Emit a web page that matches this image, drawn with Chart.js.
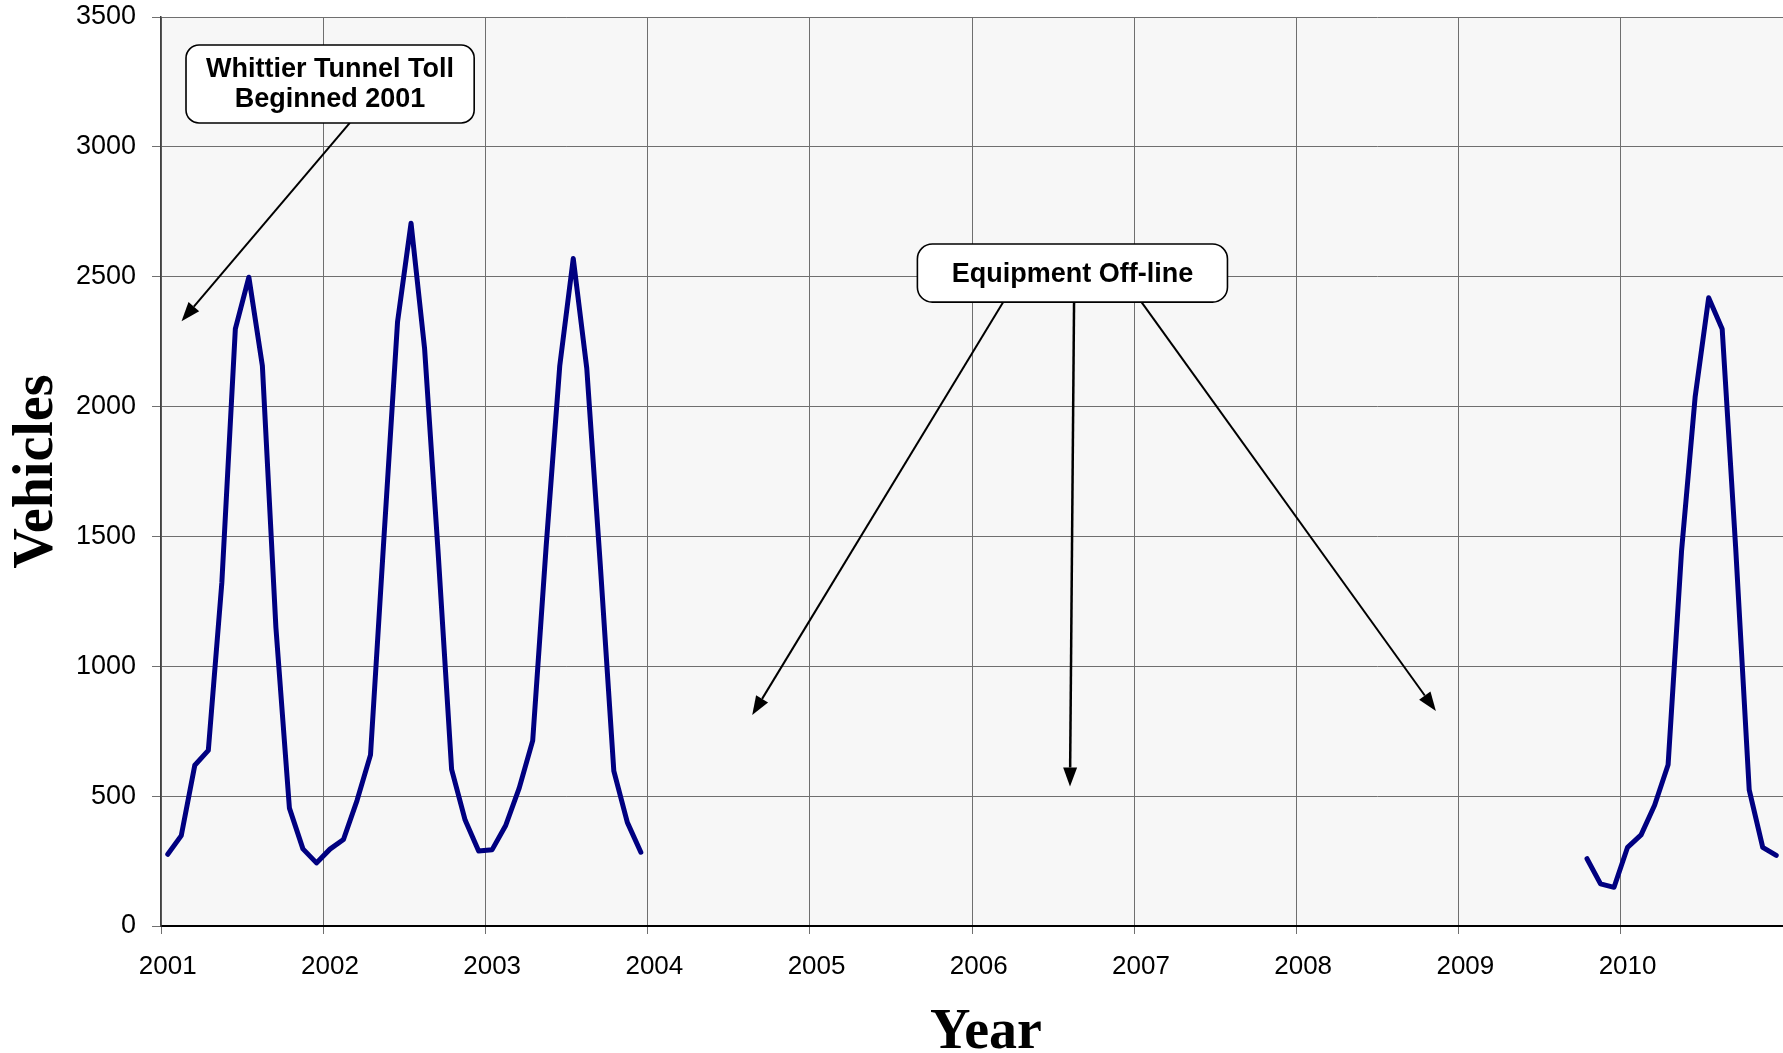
<!DOCTYPE html>
<html>
<head>
<meta charset="utf-8">
<title>Whittier Tunnel Vehicles</title>
<script src="https://cdn.jsdelivr.net/npm/chart.js@4/dist/chart.umd.min.js"></script>
<style>
  html, body { margin: 0; padding: 0; background: #fff; }
  #wrap { width: 1783px; height: 1053px; position: relative; }
</style>
</head>
<body>
<div id="wrap"><canvas id="vehiclesChart"></canvas></div>
<script>
const years = [2001, 2002, 2003, 2004, 2005, 2006, 2007, 2008, 2009, 2010];
const months = ['Jan', 'Feb', 'Mar', 'Apr', 'May', 'Jun', 'Jul', 'Aug', 'Sep', 'Oct', 'Nov', 'Dec'];
const yTicks = [0, 500, 1000, 1500, 2000, 2500, 3000, 3500];

// monthly vehicle counts, null = equipment off-line
const vehicles2001 = [276, 348, 619, 676, 1321, 2299, 2498, 2157, 1150, 454, 297, 243];
const vehicles2002 = [296, 333, 483, 659, 1500, 2326, 2706, 2224, 1440, 603, 408, 289];
const vehicles2003 = [294, 387, 531, 714, 1466, 2156, 2570, 2147, 1390, 597, 399, 284];
const vehicles2009 = [null, null, null, null, null, null, null, null, null, 259, 162, 149];
const vehicles2010 = [303, 351, 465, 621, 1448, 2037, 2419, 2299, 1455, 524, 303, 272];
const offline = new Array(12).fill(null);

const seriesByYear = {
  2001: vehicles2001, 2002: vehicles2002, 2003: vehicles2003,
  2004: offline, 2005: offline, 2006: offline, 2007: offline, 2008: offline,
  2009: vehicles2009, 2010: vehicles2010,
};

const labels = [];
const values = [];
years.forEach((y) => {
  months.forEach((m, i) => {
    labels.push(m + ' ' + y);
    values.push(seriesByYear[y][i]);
  });
});

// callouts anchored in data space: x = month index, y = vehicles
const callouts = [
  {
    lines: ['Whittier Tunnel Toll', 'Beginned 2001'],
    box: { x0: 1.35, x1: 22.67, yTop: 3392, yBottom: 3092 },
    radius: 13,
    arrows: [{ fromX: 13.47, toX: 1.02, toY: 2329, width: 2 }],
  },
  {
    lines: ['Equipment Off-line'],
    box: { x0: 55.46, x1: 78.4, yTop: 2626, yBottom: 2402 },
    radius: 15,
    arrows: [
      { fromX: 61.8, toX: 43.24, toY: 812, width: 2 },
      { fromX: 67.05, toX: 66.75, toY: 537, width: 2.5 },
      { fromX: 72.04, toX: 93.82, toY: 828, width: 2 },
    ],
  },
];

const SANS = '"Liberation Sans", Arial, sans-serif';
const SERIF = '"Liberation Serif", "Times New Roman", serif';

const plotBackground = {
  id: 'plotBackground',
  beforeDraw(chart) {
    const { ctx, chartArea: a } = chart;
    ctx.save();
    ctx.fillStyle = '#f7f7f7';
    ctx.fillRect(a.left, a.top, a.right - a.left, a.bottom - a.top);
    ctx.restore();
  },
};

function drawArrow(ctx, x0, y0, x1, y1, width) {
  const ang = Math.atan2(y1 - y0, x1 - x0);
  const head = 19;
  const half = 7;
  const bx = x1 - head * Math.cos(ang);
  const by = y1 - head * Math.sin(ang);
  ctx.lineWidth = width;
  ctx.beginPath();
  ctx.moveTo(x0, y0);
  ctx.lineTo(bx, by);
  ctx.stroke();
  ctx.beginPath();
  ctx.moveTo(x1, y1);
  ctx.lineTo(bx + half * Math.sin(ang), by - half * Math.cos(ang));
  ctx.lineTo(bx - half * Math.sin(ang), by + half * Math.cos(ang));
  ctx.closePath();
  ctx.fill();
}

const calloutPlugin = {
  id: 'callouts',
  afterDatasetsDraw(chart) {
    const { ctx, scales: { x, y } } = chart;
    ctx.save();
    ctx.strokeStyle = '#000';
    ctx.fillStyle = '#000';
    callouts.forEach((c) => {
      const left = x.getPixelForValue(c.box.x0);
      const right = x.getPixelForValue(c.box.x1);
      const top = y.getPixelForValue(c.box.yTop);
      const bottom = y.getPixelForValue(c.box.yBottom);

      c.arrows.forEach((a) => {
        drawArrow(ctx, x.getPixelForValue(a.fromX), bottom, x.getPixelForValue(a.toX), y.getPixelForValue(a.toY), a.width);
      });

      ctx.beginPath();
      ctx.roundRect(left, top, right - left, bottom - top, c.radius);
      ctx.fillStyle = '#fff';
      ctx.fill();
      ctx.lineWidth = 1.6;
      ctx.stroke();

      ctx.fillStyle = '#000';
      ctx.font = 'bold 27px ' + SANS;
      ctx.textAlign = 'center';
      ctx.textBaseline = 'middle';
      const lh = 30;
      const cx = (left + right) / 2;
      const cy = (top + bottom) / 2 + 1;
      c.lines.forEach((t, i) => {
        ctx.fillText(t, cx, cy + (i - (c.lines.length - 1) / 2) * lh);
      });
    });
    ctx.restore();
  },
};

new Chart(document.getElementById('vehiclesChart'), {
  type: 'line',
  data: {
    labels,
    datasets: [{
      label: 'Vehicles',
      data: values,
      borderColor: '#000080',
      borderWidth: 5,
      borderJoinStyle: 'round',
      borderCapStyle: 'round',
      pointRadius: 0,
      tension: 0,
      spanGaps: false,
      fill: false,
    }],
  },
  options: {
    responsive: true,
    maintainAspectRatio: false,
    animation: false,
    layout: { padding: { top: 17, right: 0, bottom: 0, left: 0 } },
    plugins: { legend: { display: false }, tooltip: { enabled: false } },
    scales: {
      x: {
        type: 'category',
        offset: true,
        afterFit: (s) => {
          s.height = 127;
          s.paddingLeft = 0;
          s.paddingRight = 0;
        },
        border: { color: '#000', width: 2 },
        grid: {
          offset: true,
          color: (ctx) => (ctx.index % 12 === 0 ? '#6f6f6f' : 'transparent'),
          tickColor: (ctx) => (ctx.index % 12 === 0 ? '#6f6f6f' : 'transparent'),
          tickLength: 8,
          lineWidth: 1,
        },
        ticks: {
          autoSkip: false,
          maxRotation: 0,
          minRotation: 0,
          padding: 17,
          color: '#000',
          font: { family: SANS, size: 26 },
          callback: (value, index) => (index % 12 === 0 ? String(years[index / 12]) : ''),
        },
        title: {
          display: true,
          text: '\u2002Year',
          color: '#000',
          font: { family: SERIF, size: 56, weight: 'bold', lineHeight: 1 },
          padding: { top: 0, bottom: -9 },
        },
      },
      y: {
        min: yTicks[0],
        max: yTicks[yTicks.length - 1],
        afterFit: (s) => {
          s.width = 161;
          s.paddingTop = 0;
          s.paddingBottom = 0;
        },
        afterBuildTicks: (s) => { s.ticks = yTicks.map((v) => ({ value: v })); },
        border: { color: '#404040', width: 1.5 },
        grid: { color: '#6f6f6f', tickColor: '#6f6f6f', tickLength: 9, lineWidth: 1 },
        ticks: {
          padding: 16,
          color: '#000',
          font: { family: SANS, size: 27 },
          callback: (value) => String(value),
        },
        title: {
          display: true,
          text: 'Vehicles',
          color: '#000',
          font: { family: SERIF, size: 56, weight: 'bold', lineHeight: 1 },
          padding: { top: 10, bottom: 0 },
        },
      },
    },
  },
  plugins: [plotBackground, calloutPlugin],
});
</script>
</body>
</html>
